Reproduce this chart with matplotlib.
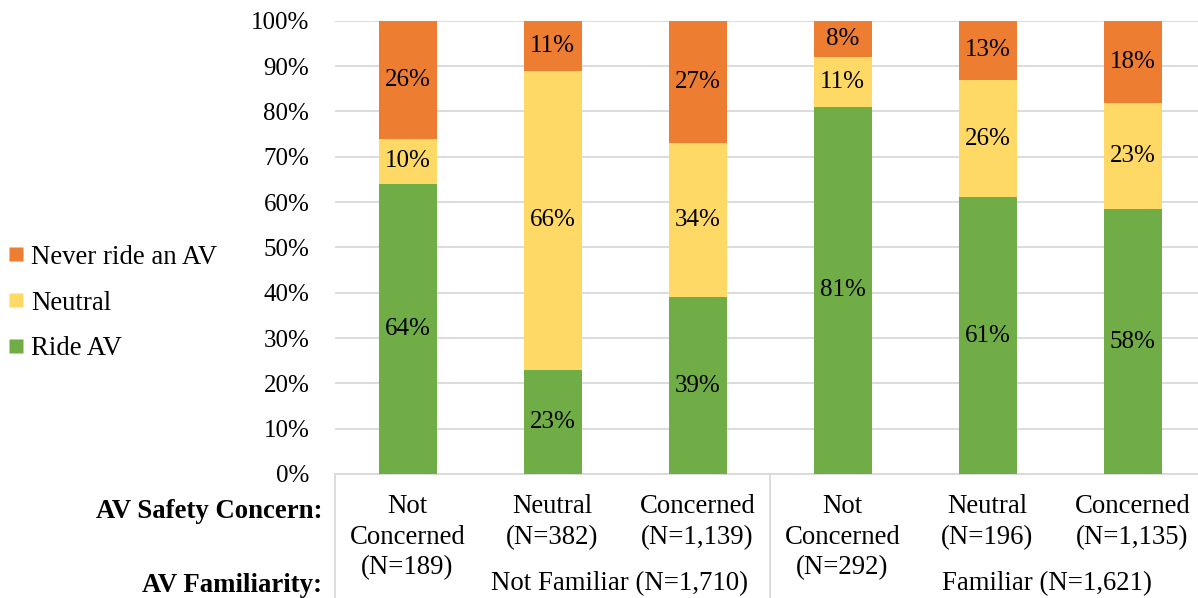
import matplotlib
matplotlib.use("Agg")
import matplotlib.pyplot as plt
import matplotlib.transforms as mtransforms
from matplotlib.lines import Line2D
import numpy as np

plt.rcParams['font.family'] = ['Liberation Serif', 'DejaVu Serif']

# Survey shares (%) by safety concern within familiarity group
concern_labels = ["Not\nConcerned\n(N=189)", "Neutral\n(N=382)", "Concerned\n(N=1,139)",
                  "Not\nConcerned\n(N=292)", "Neutral\n(N=196)", "Concerned\n(N=1,135)"]
ride_av = [64, 23, 39, 81, 61, 58.4]
neutral = [10, 66, 34, 11, 26, 23.4]
never_ride = [26, 11, 27, 8, 13, 18.2]
series_names = ["Ride AV", "Neutral", "Never ride an AV"]
group_labels = ["Not Familiar (N=1,710)", "Familiar (N=1,621)"]
y_ticks = [0, 10, 20, 30, 40, 50, 60, 70, 80, 90, 100]

colors = ["#70AD47", "#FFD966", "#ED7D31"]
FS_SMALL = 18
FS_LARGE = 19.3

W, H = 1198, 598
fig = plt.figure(figsize=(W / 100, H / 100), dpi=100)
ax = fig.add_axes([335 / W, 1 - 474 / H, 870 / W, (474 - 20.7) / H])

x = np.arange(len(concern_labels))
bottom = np.zeros(len(x))
for vals, col, name in zip([ride_av, neutral, never_ride], colors, series_names):
    vals = np.asarray(vals, dtype=float)
    ax.bar(x, vals, width=0.4, bottom=bottom, color=col, label=name,
           edgecolor="none", zorder=3)
    for xi, b, v in zip(x, bottom, vals):
        ax.text(xi, b + v / 2, f"{v:.0f}%", ha="center", va="center",
                fontsize=FS_SMALL, color="black", zorder=4)
    bottom += vals

ax.set_xlim(-0.5, 5.5)
ax.set_ylim(0, 100)
ax.set_yticks(y_ticks)
ax.set_yticklabels([f"{t}%" for t in y_ticks], fontsize=FS_SMALL)
ax.tick_params(axis="y", length=0, pad=18.5)
ax.set_xticks([])
ax.grid(axis="y", color="#D9D9D9", linewidth=1.3, zorder=0)
for s in ["top", "right", "left"]:
    ax.spines[s].set_visible(False)
ax.spines["bottom"].set_color("#D9D9D9")
ax.spines["bottom"].set_linewidth(1.3)
ax.spines["bottom"].set_zorder(1)

# Multi-level category axis below the plot
blend = mtransforms.blended_transform_factory(ax.transData, fig.transFigure)
for xi, lab in zip(x, concern_labels):
    ax.text(xi, 1 - 494 / H, lab, transform=blend, ha="center", va="top",
            fontsize=FS_LARGE, linespacing=1.3)
for gx, lab in zip([1.46, 4.41], group_labels):
    ax.text(gx, 1 - 584 / H, lab, transform=blend, ha="center", va="center",
            fontsize=FS_LARGE)
for sx in [-0.5, 2.5, 5.5]:
    ax.add_line(Line2D([sx, sx], [1 - 474 / H, 0], transform=blend,
                       color="#D9D9D9", linewidth=1.3, clip_on=False))

fig.text(322 / W, 1 - 511 / H, "AV Safety Concern:", ha="right", va="center",
         fontsize=FS_LARGE, fontweight="bold")
fig.text(322 / W, 1 - 585 / H, "AV Familiarity:", ha="right", va="center",
         fontsize=FS_LARGE, fontweight="bold")

# Legend in the left margin, top entry first
handles = [Line2D([], [], marker="s", linestyle="none", markersize=10,
                  markerfacecolor=c, markeredgecolor="none") for c in colors]
ax.legend(handles[::-1], series_names[::-1], loc="center left",
          bbox_to_anchor=(8 / W, 1 - 303 / H), bbox_transform=fig.transFigure,
          frameon=False, fontsize=FS_LARGE, handlelength=0.6, handletextpad=0.25,
          labelspacing=0.78, borderaxespad=0, borderpad=0)

fig.savefig("out.png", dpi=100)
